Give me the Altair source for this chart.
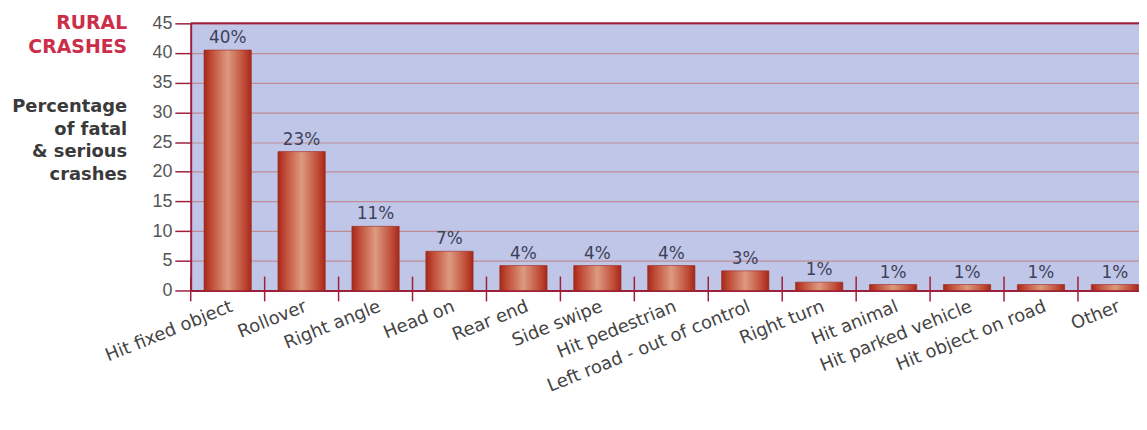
import altair as alt
import pandas as pd

categories = ["Hit fixed object", "Rollover", "Right angle", "Head on", "Rear end",
              "Side swipe", "Hit pedestrian", "Left road - out of control",
              "Right turn", "Hit animal", "Hit parked vehicle", "Hit object on road", "Other"]
values = [40.5, 23.4, 10.8, 6.6, 4.2, 4.2, 4.2, 3.3, 1.4, 1.0, 1.0, 1.0, 1.0]
labels = ["40%", "23%", "11%", "7%", "4%", "4%", "4%", "3%", "1%", "1%", "1%", "1%", "1%"]
y_ticks = [0, 5, 10, 15, 20, 25, 30, 35, 40, 45]
title_lines = ["RURAL", "CRASHES"]
ytitle_lines = ["Percentage", "of fatal", "& serious", "crashes"]

df = pd.DataFrame({"cat": categories, "val": values, "lab": labels})

LEFT, TOP = 184, 14
W, H = 1139 - LEFT, 269
XRANGE = 968          # bands run slightly past the right edge of the window, as in the original
FONT = "Liberation Sans"
WIDE = "DejaVu Sans"
DARKRED = "#9e1f3c"
PAD_IN = 0.36
STEP = XRANGE / len(categories)

bar_grad = alt.Gradient(
    gradient="linear",
    stops=[
        alt.GradientStop(color="#a42818", offset=0),
        alt.GradientStop(color="#c04a36", offset=0.15),
        alt.GradientStop(color="#dc9a80", offset=0.5),
        alt.GradientStop(color="#c04a36", offset=0.85),
        alt.GradientStop(color="#a42818", offset=1),
    ],
    x1=0, x2=1, y1=0, y2=0,
)

x_axis = alt.Axis(
    title=None, labelAngle=-22, labelAlign="right", labelBaseline="top",
    labelPadding=7, labelOffset=1, ticks=False, grid=False,
    domainColor=DARKRED, domainWidth=2, labelFont=WIDE, labelFontSize=18,
    labelColor="#444444", labelLimit=400, labelOverlap=False,
)
y_axis = alt.Axis(
    values=y_ticks, title=None, grid=True, gridColor="#bd8c94", gridWidth=1.2,
    tickColor=DARKRED, tickSize=16, tickWidth=1.5, domainColor=DARKRED,
    domainWidth=2, labelFont=FONT, labelFontSize=18, labelColor="#555555",
    labelPadding=3, labelOverlap=False,
)
x_scale = alt.Scale(paddingInner=PAD_IN, paddingOuter=PAD_IN / 2, range=[0, XRANGE])
y_scale = alt.Scale(domain=[0, 45], nice=False)

x_enc = alt.X("cat:N", sort=categories, scale=x_scale, axis=x_axis)
y_enc = alt.Y("val:Q", scale=y_scale, axis=y_axis)

base = alt.Chart(df)

bars = base.mark_bar(fill=bar_grad, stroke="#9a2a20", strokeWidth=0.6).encode(x=x_enc, y=y_enc)

texts = base.mark_text(baseline="bottom", dy=-3, font=WIDE, fontSize=17, color="#3e4258").encode(
    x=x_enc, y=y_enc, text="lab:N"
)

# category separator ticks sit halfway between neighbouring bars
xticks = base.mark_rule(color=DARKRED, strokeWidth=1.5, xOffset=-(PAD_IN / 2) * STEP).encode(
    x=alt.X("cat:N", sort=categories, scale=x_scale, axis=x_axis, bandPosition=0),
    y=alt.value(H - 14), y2=alt.value(H + 11),
)

one = alt.Data(values=[{"k": 1}])
top_border = alt.Chart(one).mark_rule(color=DARKRED, strokeWidth=2).encode(
    x=alt.value(0), x2=alt.value(W + 20), y=alt.value(0)
)

title_txt = alt.Chart(one).mark_text(
    text=title_lines, align="right", baseline="alphabetic", lineHeight=24,
    font=WIDE, fontSize=19, fontWeight="bold", color="#cc2e4a",
).encode(x=alt.value(128 - 8 - LEFT), y=alt.value(28 - 8 - TOP))

ytitle_txt = alt.Chart(one).mark_text(
    text=ytitle_lines, align="right", baseline="alphabetic", lineHeight=23,
    font=WIDE, fontSize=18, fontWeight="bold", color="#3a3a3a",
).encode(x=alt.value(128 - 8 - LEFT), y=alt.value(111 - 8 - TOP))

chart = alt.layer(bars, texts, xticks, top_border, title_txt, ytitle_txt).properties(
    width=W, height=H,
    autosize=alt.AutoSizeParams(type="none"),
    padding={"left": LEFT, "top": TOP, "right": 0, "bottom": 130},
).configure(background="white").configure_view(fill="#c0c6e8", strokeWidth=0)

chart.save("out.html", embed_options={"renderer": "svg", "actions": False})
